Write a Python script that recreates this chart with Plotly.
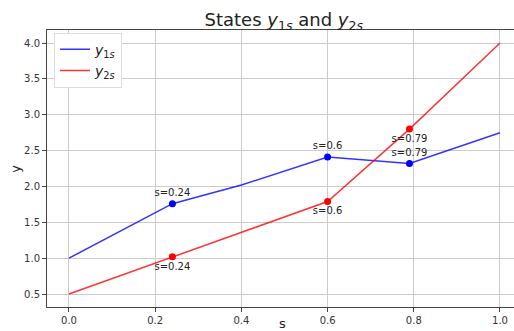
import plotly.graph_objects as go

# State trajectories over s
s_y1 = [0.0, 0.24, 0.4, 0.6, 0.79, 1.0]
y1 = [1.0, 1.76, 2.02, 2.41, 2.32, 2.75]
s_y2 = [0.0, 0.24, 0.6, 0.79, 1.0]
y2 = [0.5, 1.02, 1.79, 2.80, 4.0]

# Highlighted switching points
s_marks = [0.24, 0.6, 0.79]
y1_marks = [1.76, 2.41, 2.32]
y2_marks = [1.02, 1.79, 2.80]
mark_labels = ["s=0.24", "s=0.6", "s=0.79"]

x_ticks = [0.0, 0.2, 0.4, 0.6, 0.8, 1.0]
y_ticks = [0.5, 1.0, 1.5, 2.0, 2.5, 3.0, 3.5, 4.0]

FONT = "DejaVu Sans"
BLUE_LINE = "rgba(0,0,255,0.8)"
RED_LINE = "rgba(255,0,0,0.8)"

fig = go.Figure()
fig.add_trace(go.Scatter(x=s_y1, y=y1, mode="lines", line=dict(color=BLUE_LINE, width=1.5),
                         name="<i>y</i><sub>1<i>s</i></sub>"))
fig.add_trace(go.Scatter(x=s_y2, y=y2, mode="lines", line=dict(color=RED_LINE, width=1.5),
                         name="<i>y</i><sub>2<i>s</i></sub>"))
fig.add_trace(go.Scatter(x=s_marks, y=y1_marks, mode="markers+text", marker=dict(color="blue", size=7),
                         text=mark_labels, textposition="top center",
                         textfont=dict(family=FONT, size=10, color="#222"), showlegend=False))
fig.add_trace(go.Scatter(x=s_marks, y=y2_marks, mode="markers+text", marker=dict(color="red", size=7),
                         text=mark_labels, textposition="bottom center",
                         textfont=dict(family=FONT, size=10, color="#222"), showlegend=False))

fig.update_layout(
    width=514, height=331,
    margin=dict(l=47, r=0, t=30, b=24, autoexpand=False),
    paper_bgcolor="white", plot_bgcolor="white",
    font=dict(family=FONT, color="#333"),
    title=dict(text="States <i>y</i><sub>1<i>s</i></sub> and <i>y</i><sub>2<i>s</i></sub>",
               xref="paper", x=0.507, xanchor="center",
               yref="container", y=0.94, yanchor="middle",
               font=dict(family=FONT, size=18, color="#222")),
    legend=dict(x=0.015, y=0.99, xanchor="left", yanchor="top",
                bgcolor="white", bordercolor="#dddddd", borderwidth=1,
                font=dict(family=FONT, size=14, color="#222"),
                itemwidth=30, tracegroupgap=0),
    showlegend=True,
    annotations=[
        # axis labels
        dict(text="s", xref="paper", yref="paper", x=0.505, y=-0.058,
             xanchor="center", yanchor="middle", showarrow=False,
             font=dict(family=FONT, size=13, color="#222")),
        dict(text="y", xref="paper", yref="paper", x=-0.068, y=0.5,
             xanchor="center", yanchor="middle", showarrow=False, textangle=-90,
             font=dict(family=FONT, size=13, color="#222")),
    ],
)
fig.update_xaxes(range=[-0.051, 1.0325], tickvals=x_ticks, tickformat=".1f", automargin=False,
                 showgrid=True, gridcolor="#cccccc", gridwidth=1,
                 showline=True, linecolor="#444", linewidth=1, mirror=True,
                 ticks="outside", ticklen=4, tickcolor="#444", zeroline=False,
                 tickfont=dict(size=10, color="#333"))
fig.update_yaxes(range=[0.319, 4.182], tickvals=y_ticks, tickformat=".1f", automargin=False,
                 showgrid=True, gridcolor="#cccccc", gridwidth=1,
                 showline=True, linecolor="#444", linewidth=1,
                 ticks="outside", ticklen=4, tickcolor="#444", zeroline=False,
                 tickfont=dict(size=10, color="#333"))

fig.write_html("out.html")
